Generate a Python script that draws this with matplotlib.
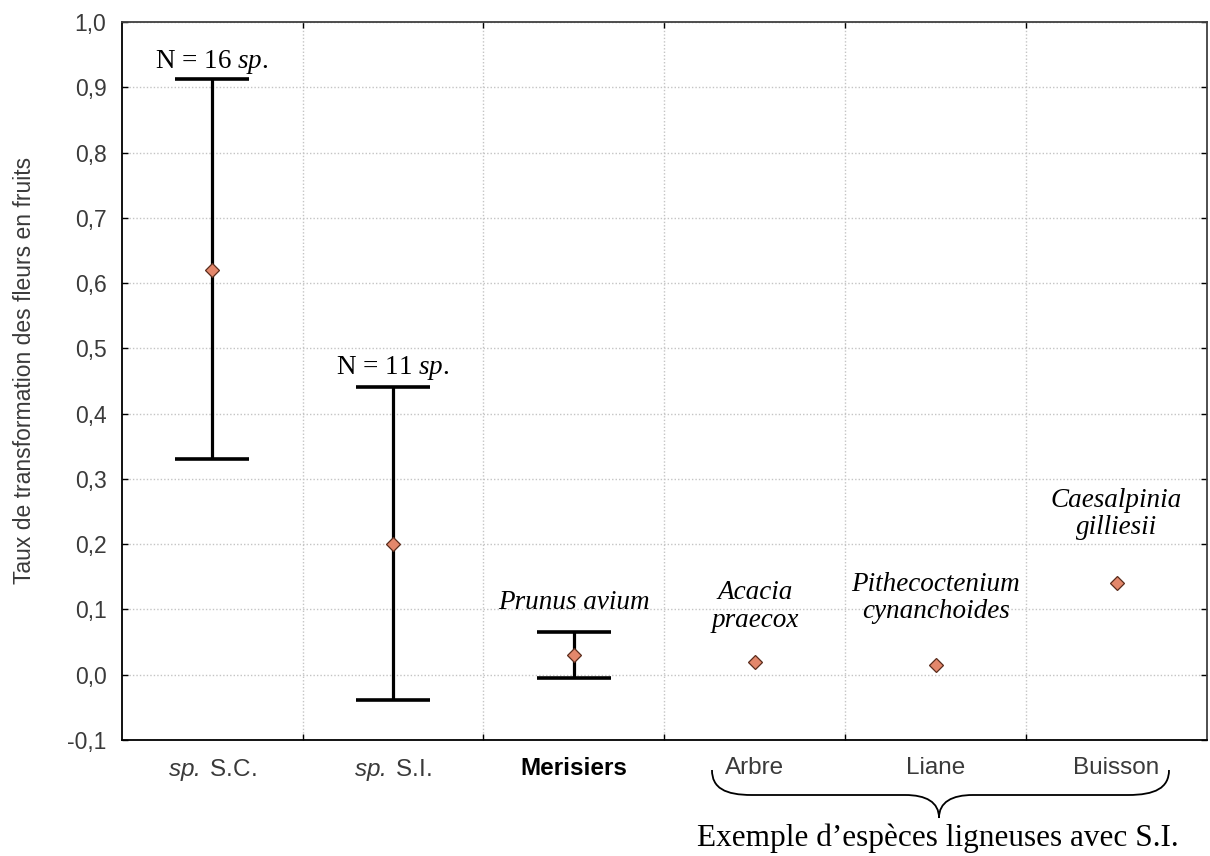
import numpy as np
import matplotlib
matplotlib.use("Agg")
import matplotlib.pyplot as plt
from matplotlib.path import Path
from matplotlib.patches import PathPatch
from matplotlib.ticker import FuncFormatter, MultipleLocator, FixedLocator

# ---------------- data ----------------
categories = [r'$\mathsf{sp.}$S.C.', r'$\mathsf{sp.}$S.I.', 'Merisiers', 'Arbre', 'Liane', 'Buisson']
means = [0.620, 0.200, 0.030, 0.020, 0.0155, 0.141]
lower = [0.331, -0.038, -0.005, np.nan, np.nan, np.nan]
upper = [0.912, 0.441, 0.0655, np.nan, np.nan, np.nan]

ann_texts = [r'N = 16 $\mathit{sp.}$', r'N = 11 $\mathit{sp.}$']
ann_x = [0, 1]
ann_y = [0.930, 0.460]

species_texts = ['Prunus avium', 'Acacia\npraecox', 'Pithecoctenium\ncynanchoides', 'Caesalpinia\ngilliesii']
species_x = [2, 3, 4, 5]
species_y = [0.100, 0.0736, 0.0865, 0.2156]

ylabel = 'Taux de transformation des fleurs en fruits'
group_label = 'Exemple d\u2019espèces ligneuses avec S.I.'

# ---------------- style ----------------
plt.rcParams['mathtext.fontset'] = 'custom'
plt.rcParams['mathtext.it'] = 'Liberation Serif:italic'
plt.rcParams['mathtext.rm'] = 'Liberation Serif'
plt.rcParams['mathtext.sf'] = 'Liberation Sans:italic'

W, H = 1210, 856
fig = plt.figure(figsize=(W / 100, H / 100), dpi=100)
ax = fig.add_axes([121.7 / W, 1 - 740 / H, (1207 - 121.7) / W, (740 - 22) / H])

x = np.arange(len(categories))
means_a = np.array(means)
lo = means_a - np.array(lower)
hi = np.array(upper) - means_a
yerr = np.vstack([lo, hi])

ax.errorbar(x, means_a, yerr=yerr, fmt='none', ecolor='black',
            elinewidth=2.3, capsize=26.5, capthick=2.6, zorder=3)
ax.plot(x, means_a, linestyle='none', marker='D', markersize=7.3,
        markerfacecolor='#E3876B', markeredgecolor='#5a2c1c',
        markeredgewidth=0.9, zorder=4)

ax.set_xlim(-0.5, len(categories) - 0.5)
ax.set_ylim(-0.1, 1.0)

ax.yaxis.set_major_locator(MultipleLocator(0.1))
ax.yaxis.set_major_formatter(FuncFormatter(lambda v, p: f'{v:.1f}'.replace('.', ',').replace('-0,0', '0,0')))
ax.set_xticks(x)
ax.set_xticklabels([c.replace('$S', '$ S') if False else c for c in categories])
ax.xaxis.set_minor_locator(FixedLocator(np.arange(0.5, len(categories) - 0.5, 1.0)))

ax.grid(True, axis='y', which='major', linestyle=(0, (1, 1.5)), color='#c4c4c4', linewidth=1.0)
ax.grid(True, axis='x', which='minor', linestyle=(0, (1, 1.5)), color='#c4c4c4', linewidth=1.0)
ax.grid(False, axis='x', which='major')
ax.set_axisbelow(True)

ax.tick_params(axis='x', which='major', length=0, pad=12,
               labelsize=17.5, labelcolor='#3a3a3a')
ax.tick_params(axis='x', which='minor', length=4, direction='in', top=True, bottom=True, width=1)
ax.tick_params(axis='y', which='major', length=4, direction='in', right=True, left=True, width=1,
               pad=11, labelsize=16.5, labelcolor='#3a3a3a')
for lab in ax.get_yticklabels() + ax.get_xticklabels():
    lab.set_fontfamily('Liberation Sans')
xl = ax.get_xticklabels()
for i in (0, 1):
    xl[i].set_text(categories[i].replace('$S', r'\ $S'))
ax.set_xticklabels([t.get_text() for t in xl])
xl = ax.get_xticklabels()
for lab in xl:
    lab.set_fontfamily('Liberation Sans')
xl[2].set_fontweight('bold')
xl[2].set_color('black')

for s in ['left', 'bottom']:
    ax.spines[s].set_color('black')
    ax.spines[s].set_linewidth(1.3)
for s in ['top', 'right']:
    ax.spines[s].set_color('#404040')
    ax.spines[s].set_linewidth(1.3)

# annotations
for t, xx, yy in zip(ann_texts, ann_x, ann_y):
    ax.text(xx, yy, t, ha='center', va='baseline', fontsize=19.5,
            family='Liberation Serif', color='black', zorder=5)
for t, xx, yy in zip(species_texts, species_x, species_y):
    ax.text(xx, yy, t, ha='center', va='baseline', fontsize=19.5,
            family='Liberation Serif', style='italic', color='black',
            linespacing=1.12, multialignment='center', zorder=5)

# y label
fig.text(25 / W, 1 - 370 / H, ylabel, rotation=90, ha='center', va='center',
         fontsize=16.5, family='Liberation Sans', color='#3a3a3a')

# brace under the three last categories
pts = [(712, 770), (712, 788), (725, 795), (752, 795),
       (905, 795),
       (926, 795), (939, 802), (939, 818),
       (939, 802), (952, 795), (973, 795),
       (1128, 795),
       (1155, 795), (1169, 788), (1169, 770)]
codes = [Path.MOVETO, Path.CURVE4, Path.CURVE4, Path.CURVE4,
         Path.LINETO,
         Path.CURVE4, Path.CURVE4, Path.CURVE4,
         Path.CURVE4, Path.CURVE4, Path.CURVE4,
         Path.LINETO,
         Path.CURVE4, Path.CURVE4, Path.CURVE4]
verts = [(px / W, 1 - py / H) for px, py in pts]
fig.patches.append(PathPatch(Path(verts, codes), transform=fig.transFigure,
                             facecolor='none', edgecolor='black', linewidth=1.3))

fig.text(938 / W, 1 - 846 / H, group_label, ha='center', va='baseline',
         fontsize=22.5, family='Liberation Serif', color='black')

fig.savefig('out.png', dpi=100)
